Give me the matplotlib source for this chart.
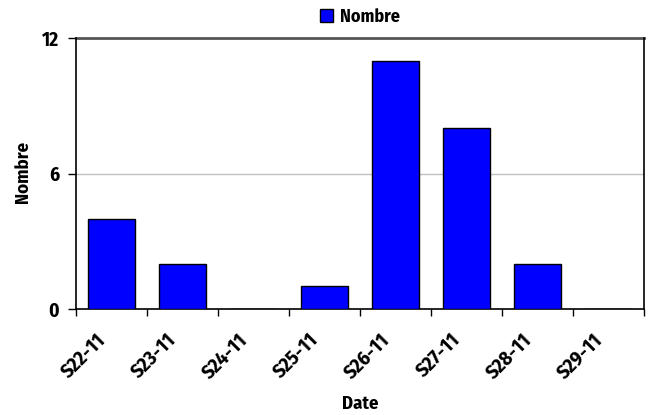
import matplotlib
matplotlib.use("Agg")
import matplotlib.pyplot as plt
import matplotlib.transforms as mtransforms
from matplotlib.patches import Patch
import numpy as np

categories = ["S22-11", "S23-11", "S24-11", "S25-11", "S26-11", "S27-11", "S28-11", "S29-11"]
counts = [4, 2, 0, 1, 11, 8, 2, 0]
y_ticks = [0, 6, 12]
series_name = "Nombre"

plt.rcParams["font.family"] = ["Fira Sans Condensed", "DejaVu Sans"]
plt.rcParams["font.weight"] = "bold"

fig = plt.figure(figsize=(6.52, 4.15), dpi=100)
W, H = 652, 415
ax = fig.add_axes([76 / W, 1 - 309 / H, (644 - 76) / W, (309 - 38) / H])

x = np.arange(len(categories))
ax.bar(x, counts, width=0.67, color="#0000FF", edgecolor="black", linewidth=1.0, zorder=3)

ax.set_xlim(-0.5, len(categories) - 0.5)
ax.set_ylim(0, 12)
ax.set_yticks(y_ticks)
ax.set_yticklabels([str(v) for v in y_ticks], fontsize=14, fontweight="bold")

# horizontal gridlines
ax.axhline(6, color="#BFBFBF", linewidth=1.0, zorder=1)
ax.axhline(12, color="#555555", linewidth=2.0, zorder=2, clip_on=False)

# tick marks on category boundaries; rotated category labels drawn as texts
ax.set_xticks([])
ax.set_xticks(np.arange(-0.5, len(categories)), minor=True)
ax.tick_params(axis="x", which="minor", length=5, width=1, color="black", direction="out")
ax.tick_params(axis="y", length=6, width=1, color="black", direction="out", pad=6)

label_tf = ax.get_xaxis_transform() + mtransforms.ScaledTranslation(-16 / 100, -21 / 100, fig.dpi_scale_trans)
for xi, cat in zip(x, categories):
    ax.text(xi, 0, cat, transform=label_tf, rotation=45, ha="right", va="top",
            rotation_mode="anchor", fontsize=14.5, fontweight="bold", clip_on=False)

for side in ["left", "bottom", "right"]:
    ax.spines[side].set_color("black")
    ax.spines[side].set_linewidth(1.2)
ax.spines["top"].set_visible(False)

ax.set_xlabel("Date", fontsize=13.5, fontweight="bold")
ax.xaxis.set_label_coords(0.5, 1 - (404 - 38) / 271, transform=ax.transAxes)
ax.xaxis.label.set_va("center")
ax.set_ylabel("Nombre", fontsize=13.5, fontweight="bold")
ax.yaxis.set_label_coords((23 - 76) / 568, (309 - 172) / 271, transform=ax.transAxes)
ax.yaxis.label.set_va("center")

handle = Patch(facecolor="#0000FF", edgecolor="black", linewidth=1.0)
fig.legend([handle], [series_name], loc="center", bbox_to_anchor=(360 / W, 1 - 17 / H),
           frameon=False, handlelength=0.7, handleheight=0.7, handletextpad=0.4,
           prop={"size": 13, "weight": "bold"})

fig.savefig("out.png", dpi=100)
